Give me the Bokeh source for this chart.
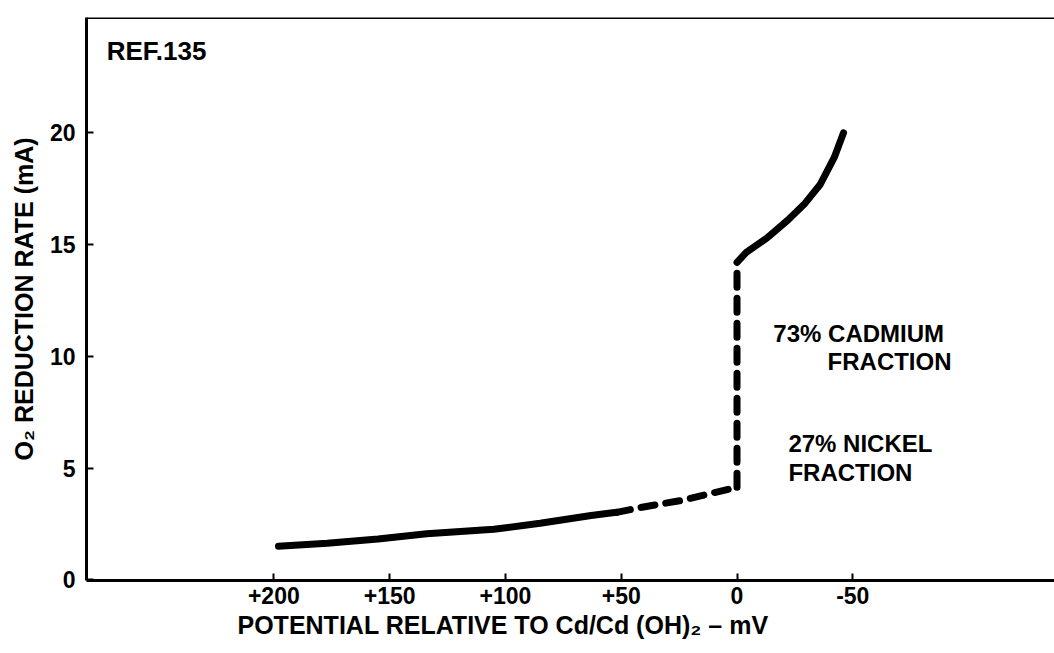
from bokeh.plotting import figure
from bokeh.models import Range1d, FixedTicker, Span, ColumnDataSource, Title
from bokeh.core.properties import value
from bokeh.embed import file_html
from bokeh.resources import INLINE

# ---- data ----
low_solid_x = [198, 177, 155, 134, 105, 85, 63, 52]
low_solid_y = [1.50, 1.64, 1.83, 2.06, 2.26, 2.53, 2.88, 3.02]
low_dash_x = [52, 41, 24, 12, 0]
low_dash_y = [3.02, 3.25, 3.55, 3.85, 4.14]
jump_x = [0, 0]
jump_y = [4.14, 14.2]
high_x = [0, -4, -13, -22, -29, -36, -42, -46]
high_y = [14.2, 14.65, 15.3, 16.1, 16.8, 17.7, 18.9, 20.0]

x_ticks = [200, 150, 100, 50, 0, -50]
x_tick_labels = ["+200", "+150", "+100", "+50", "0", "-50"]
y_ticks = [0, 5, 10, 15, 20]

notes_x = [272.2, -15.7, -39.1, -22.2, -22.2]
notes_y = [23.68, 11.02, 9.79, 6.10, 4.80]
notes_text = ["REF.135", "73% CADMIUM", "FRACTION", "27% NICKEL", "FRACTION"]
notes_size = ["26px", "24px", "24px", "24px", "24px"]

x_label = "POTENTIAL RELATIVE TO Cd/Cd (OH)\u2082 \u2013 mV"
y_label = "O\u2082 REDUCTION RATE (mA)"

FONT = "Liberation Sans"

p = figure(width=1054, height=650,
           x_range=Range1d(280.9, -137.1), y_range=Range1d(-0.03, 25.16),
           output_backend="svg", toolbar_location=None,
           min_border_left=86, min_border_right=0,
           min_border_top=17, min_border_bottom=70)
p.outline_line_color = None
p.xgrid.visible = False
p.ygrid.visible = False
p.background_fill_color = "white"
p.border_fill_color = "white"

lw = 7
p.line(low_solid_x, low_solid_y, line_width=lw, color="black", line_cap="round")
p.line(low_dash_x, low_dash_y, line_width=lw, color="black", line_cap="round",
       line_dash="14 11")
p.line(jump_x, jump_y, line_width=lw, color="black", line_cap="round",
       line_dash="14 11")
p.line(high_x, high_y, line_width=lw, color="black", line_cap="round",
       line_join="round")

src = ColumnDataSource(dict(x=notes_x, y=notes_y, t=notes_text, s=notes_size))
p.text(x="x", y="y", text="t", source=src, text_font=value(FONT),
       text_font_style="bold", text_font_size="s", text_color="black",
       text_align="left", text_baseline="alphabetic")

top = Span(location=25.16, dimension="width", line_color="black", line_width=3)
p.add_layout(top)

for ax in (p.xaxis[0], p.yaxis[0]):
    ax.axis_line_width = 3
    ax.axis_line_color = "black"
    ax.major_tick_in = 7
    ax.major_tick_out = 0
    ax.major_tick_line_width = 2
    ax.minor_tick_in = 0
    ax.minor_tick_out = 0
    ax.major_label_text_font = FONT
    ax.major_label_text_font_style = "bold"
    ax.major_label_text_font_size = "23px"
    ax.major_label_text_color = "black"
    ax.axis_label_text_font = FONT
    ax.axis_label_text_font_style = "bold"
    ax.axis_label_text_font_size = "25px"
    ax.axis_label_text_color = "black"

p.xaxis.ticker = FixedTicker(ticks=x_ticks)
p.xaxis.major_label_overrides = {t: l for t, l in zip(x_ticks, x_tick_labels)}
p.xaxis.major_label_standoff = 6

xt = Title(text=x_label, align="left", offset=151, standoff=4,
           text_font=FONT, text_font_style="bold", text_font_size="25px",
           text_color="black")
p.add_layout(xt, "below")

p.yaxis.ticker = FixedTicker(ticks=y_ticks)
p.yaxis.major_label_standoff = 11
p.yaxis.axis_label_standoff = 9
p.yaxis.axis_label = y_label

open("out.html", "w").write(file_html(p, INLINE))
